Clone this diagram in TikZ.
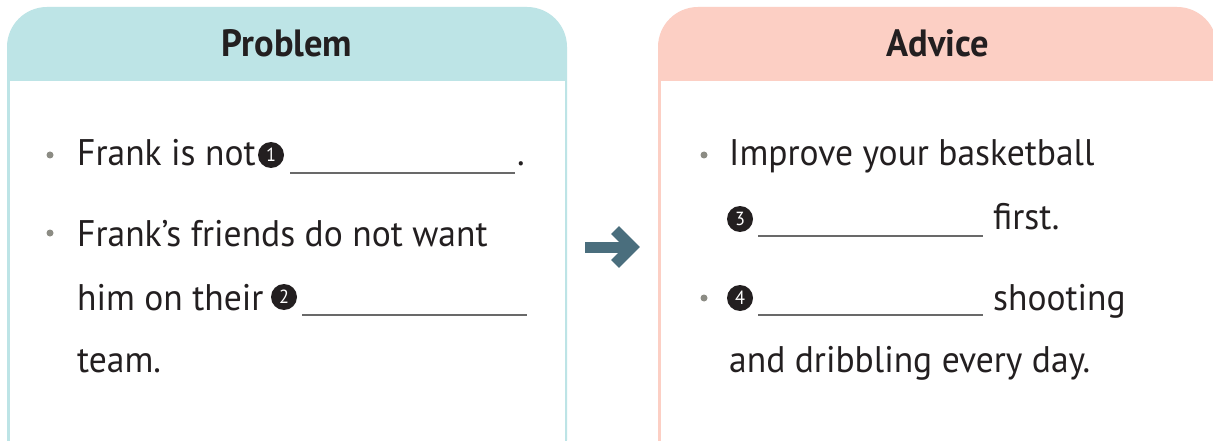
\documentclass[tikz,border=0pt]{standalone}
\usepackage{fontspec}
\setmainfont{PT Sans}[FakeStretch=0.96]
\usetikzlibrary{positioning, calc}
\definecolor{probfill}{RGB}{189,228,230}
\definecolor{advfill}{RGB}{252,207,196}
\definecolor{ink}{RGB}{35,31,32}
\definecolor{dotgray}{RGB}{140,140,132}
\definecolor{arrowc}{RGB}{74,110,125}
\definecolor{blankgray}{RGB}{105,105,105}
\tikzset{
  bodytext/.style={font=\fontsize{37}{44}\selectfont, text=ink, inner sep=0pt, anchor=base west},
  headtext/.style={font=\fontsize{38}{42}\selectfont\bfseries, text=ink, inner sep=0pt, anchor=base},
  bulletdot/.style={circle, fill=dotgray, inner sep=0pt, minimum size=7pt},
  numdot/.style={circle, fill=ink, text=white, inner sep=0pt, minimum size=26pt, font=\fontsize{19}{19}\selectfont},
  blank/.style={draw=blankgray, line width=1.4pt},
  bigarrow/.style={draw=arrowc, line width=11pt},
}

\begin{document}
\begin{tikzpicture}[x=1pt, y=-1pt]
\useasboundingbox (0,0) rectangle (1213,441);
\fill[white] (0,0) rectangle (1213,441);
\begin{scope}
\clip (0,0) rectangle (1213,441);
% problem panel
\fill[probfill, rounded corners=40pt] (7,7) rectangle (567,480);
\fill[white] (9.5,81) rectangle (564.5,480);
% advice panel
\fill[advfill, rounded corners=40pt] (658,7) rectangle (1217,480);
\fill[white] (660.5,81) rectangle (1214.5,480);
\end{scope}

% headers
\node[headtext] (probhead) at (287,57) {Problem};
\node[headtext] (advhead) at (938,57) {Advice};

% problem lines
\node[bulletdot] (pdot1) at (50,155) {};
\node[bodytext] (p1) at (77,166) {Frank is not};
\node[numdot] (num1) at (271,155) {1};
\coordinate (bl1a) at (290,173);
\coordinate (bl1b) at (515,173);
\draw[blank] (bl1a) -- (bl1b);
\node[bodytext] (p1end) at (517,166) {.};

\node[bulletdot] (pdot2) at (50,233) {};
\node[bodytext] (p2) at (77,246) {Frank’s friends do not want};
\node[bodytext] (p3) at (77,310) {him on their};
\node[numdot] (num2) at (284,297) {2};
\coordinate (bl2a) at (302,315);
\coordinate (bl2b) at (527,315);
\draw[blank] (bl2a) -- (bl2b);
\node[bodytext] (p4) at (77,372) {team.};

% advice lines
\node[bulletdot] (adot1) at (704,155) {};
\node[bodytext] (a1) at (729,166) {Improve your basketball};
\node[numdot] (num3) at (740,219) {3};
\coordinate (bl3a) at (758,236);
\coordinate (bl3b) at (983,236);
\draw[blank] (bl3a) -- (bl3b);
\node[bodytext] (a2) at (993,229) {first.};

\node[bulletdot] (adot2) at (704,298) {};
\node[numdot] (num4) at (740,298) {4};
\coordinate (bl4a) at (758,315);
\coordinate (bl4b) at (983,315);
\draw[blank] (bl4a) -- (bl4b);
\node[bodytext] (a3) at (993,310) {shooting};
\node[bodytext] (a4) at (729,372) {and dribbling every day.};

% arrow between panels
\coordinate (arrtail) at (585,247);
\coordinate (arrtip) at (632,247);
\draw[bigarrow] (arrtail) -- (arrtip);
\draw[bigarrow, miter limit=3] ($(arrtip)+(-17,-17)$) -- (arrtip) -- ($(arrtip)+(-17,17)$);
\end{tikzpicture}
\end{document}
